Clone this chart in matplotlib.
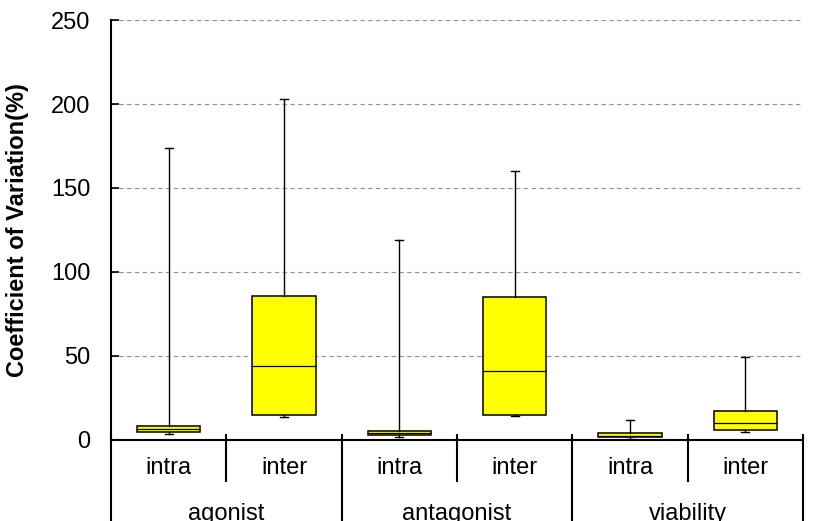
import matplotlib
matplotlib.use("Agg")
import matplotlib.pyplot as plt

plt.rcParams['font.family'] = ['Liberation Sans', 'DejaVu Sans']

groups = ["agonist", "antagonist", "viability"]
subcats = ["intra", "inter", "intra", "inter", "intra", "inter"]
whislo = [3.5, 13.7, 1.8, 14.0, 0.4, 5.0]
q1 = [4.6, 14.7, 3.0, 15.0, 1.6, 5.8]
med = [6.7, 43.9, 4.4, 41.0, 2.5, 10.1]
q3 = [8.5, 85.7, 5.5, 85.0, 4.0, 17.1]
whishi = [173.8, 203.0, 119.0, 160.0, 11.7, 49.6]
yticks = [0, 50, 100, 150, 200, 250]

fig = plt.figure(figsize=(8.18, 5.21), dpi=100)
ax = fig.add_axes([0.1357, 0.1555, 0.9817 - 0.1357, 0.9616 - 0.1555])

stats = []
for i in range(len(subcats)):
    stats.append(dict(whislo=whislo[i], q1=q1[i], med=med[i], q3=q3[i],
                      whishi=whishi[i], fliers=[]))
pos = list(range(1, len(subcats) + 1))
ax.bxp(stats, positions=pos, widths=0.55, patch_artist=True, showfliers=False,
       capwidths=0.07,
       boxprops=dict(facecolor='#ffff00', edgecolor='black', linewidth=1.1),
       medianprops=dict(color='black', linewidth=0.9),
       whiskerprops=dict(color='black', linewidth=1.0),
       capprops=dict(color='black', linewidth=1.0))

ax.set_xlim(0.5, len(subcats) + 0.5)
ax.set_ylim(0, 250)
ax.set_yticks(yticks)
ax.yaxis.grid(True, linestyle=(0, (4, 3)), color='#909090', linewidth=0.8)
ax.set_axisbelow(True)
for s in ['top', 'right']:
    ax.spines[s].set_visible(False)
ax.spines['left'].set_linewidth(1.5)
ax.spines['bottom'].set_linewidth(1.5)
ax.tick_params(axis='y', direction='in', length=6, width=1.2, labelsize=17, pad=15)
ax.set_xticks([])
ax.set_ylabel("Coefficient of Variation(%)", fontsize=17, fontweight='bold', labelpad=16)

tr = ax.get_xaxis_transform()
# dividers
for i in range(len(subcats) + 1):
    x = 0.5 + i
    if i % 2 == 0:
        ax.plot([x, x], [0.015, -0.25], transform=tr, color='black', lw=1.5,
                clip_on=False, solid_capstyle='butt')
    else:
        ax.plot([x, x], [0.015, -0.10], transform=tr, color='black', lw=1.5,
                clip_on=False, solid_capstyle='butt')
for i, lab in enumerate(subcats):
    ax.text(pos[i], -0.067, lab, transform=tr, ha='center', va='center', fontsize=17)
for j, g in enumerate(groups):
    ax.text(2 * j + 1.5, -0.176, g, transform=tr, ha='center', va='center', fontsize=17)

fig.savefig("out.png", dpi=100)
